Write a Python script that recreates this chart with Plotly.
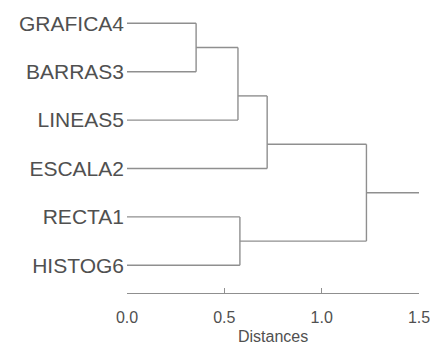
import plotly.graph_objects as go

# Leaf labels (top to bottom)
labels = ["GRAFICA4", "BARRAS3", "LINEAS5", "ESCALA2", "RECTA1", "HISTOG6"]
# Merges: nodes 0..5 are leaves, merge k creates node 6+k
merge_left = [0, 6, 4, 7, 9]
merge_right = [1, 2, 5, 3, 8]
merge_dist = [0.355, 0.57, 0.58, 0.72, 1.23]
x_ticks = [0.0, 0.5, 1.0, 1.5]
x_max = 1.5

n = len(labels)
node_x = {i: 0.0 for i in range(n)}
node_y = {i: float(i) for i in range(n)}
leaf_max = {i: i for i in range(n)}
xs, ys = [], []
for k, (a, b, d) in enumerate(zip(merge_left, merge_right, merge_dist)):
    node = n + k
    xs += [node_x[a], d, None, node_x[b], d, None]
    ys += [node_y[a], node_y[a], None, node_y[b], node_y[b], None]
    xs += [d, d, None]
    ys += [node_y[a], node_y[b], None]
    node_x[node] = d
    node_y[node] = leaf_max[a] + 0.5
    leaf_max[node] = max(leaf_max[a], leaf_max[b])
root = n + len(merge_dist) - 1
xs += [node_x[root], x_max, None]
ys += [node_y[root], node_y[root], None]

fig = go.Figure()
fig.add_trace(go.Scatter(x=xs, y=ys, mode="lines",
                         line=dict(color="#8f8f8f", width=1.4),
                         hoverinfo="skip", showlegend=False))

plot_top, plot_bottom = 5, 52
plot_h = 345 - plot_top - plot_bottom
fig.update_layout(
    width=430, height=345,
    margin=dict(l=127, r=11, t=plot_top, b=plot_bottom),
    paper_bgcolor="white", plot_bgcolor="white",
    font=dict(family="Liberation Sans, Arial, sans-serif", color="#505050"),
    xaxis=dict(range=[0, x_max], tickvals=x_ticks,
               ticktext=[f"{v:.1f}" for v in x_ticks],
               showgrid=False, zeroline=False, showline=True,
               linecolor="#8f8f8f", linewidth=1.4,
               ticks="inside", ticklen=5, tickcolor="#8f8f8f", tickwidth=1.4,
               tickfont=dict(size=16), ticklabelstandoff=10,
               ticklabeloverflow="allow", automargin=False),
    yaxis=dict(range=[5.572, -0.378], tickvals=list(range(n)), ticktext=labels,
               showgrid=False, zeroline=False, showline=False, ticks="",
               tickfont=dict(size=21), ticklabelstandoff=2, automargin=False),
    annotations=[dict(text="Distances", x=0.5, xref="paper",
                      y=(plot_top + plot_h - 336) / plot_h, yref="paper",
                      showarrow=False, font=dict(size=16), yanchor="middle")],
)
fig.write_html("out.html", config={"displayModeBar": False},
               post_script="document.body.style.margin='0';document.body.style.padding='0';")
